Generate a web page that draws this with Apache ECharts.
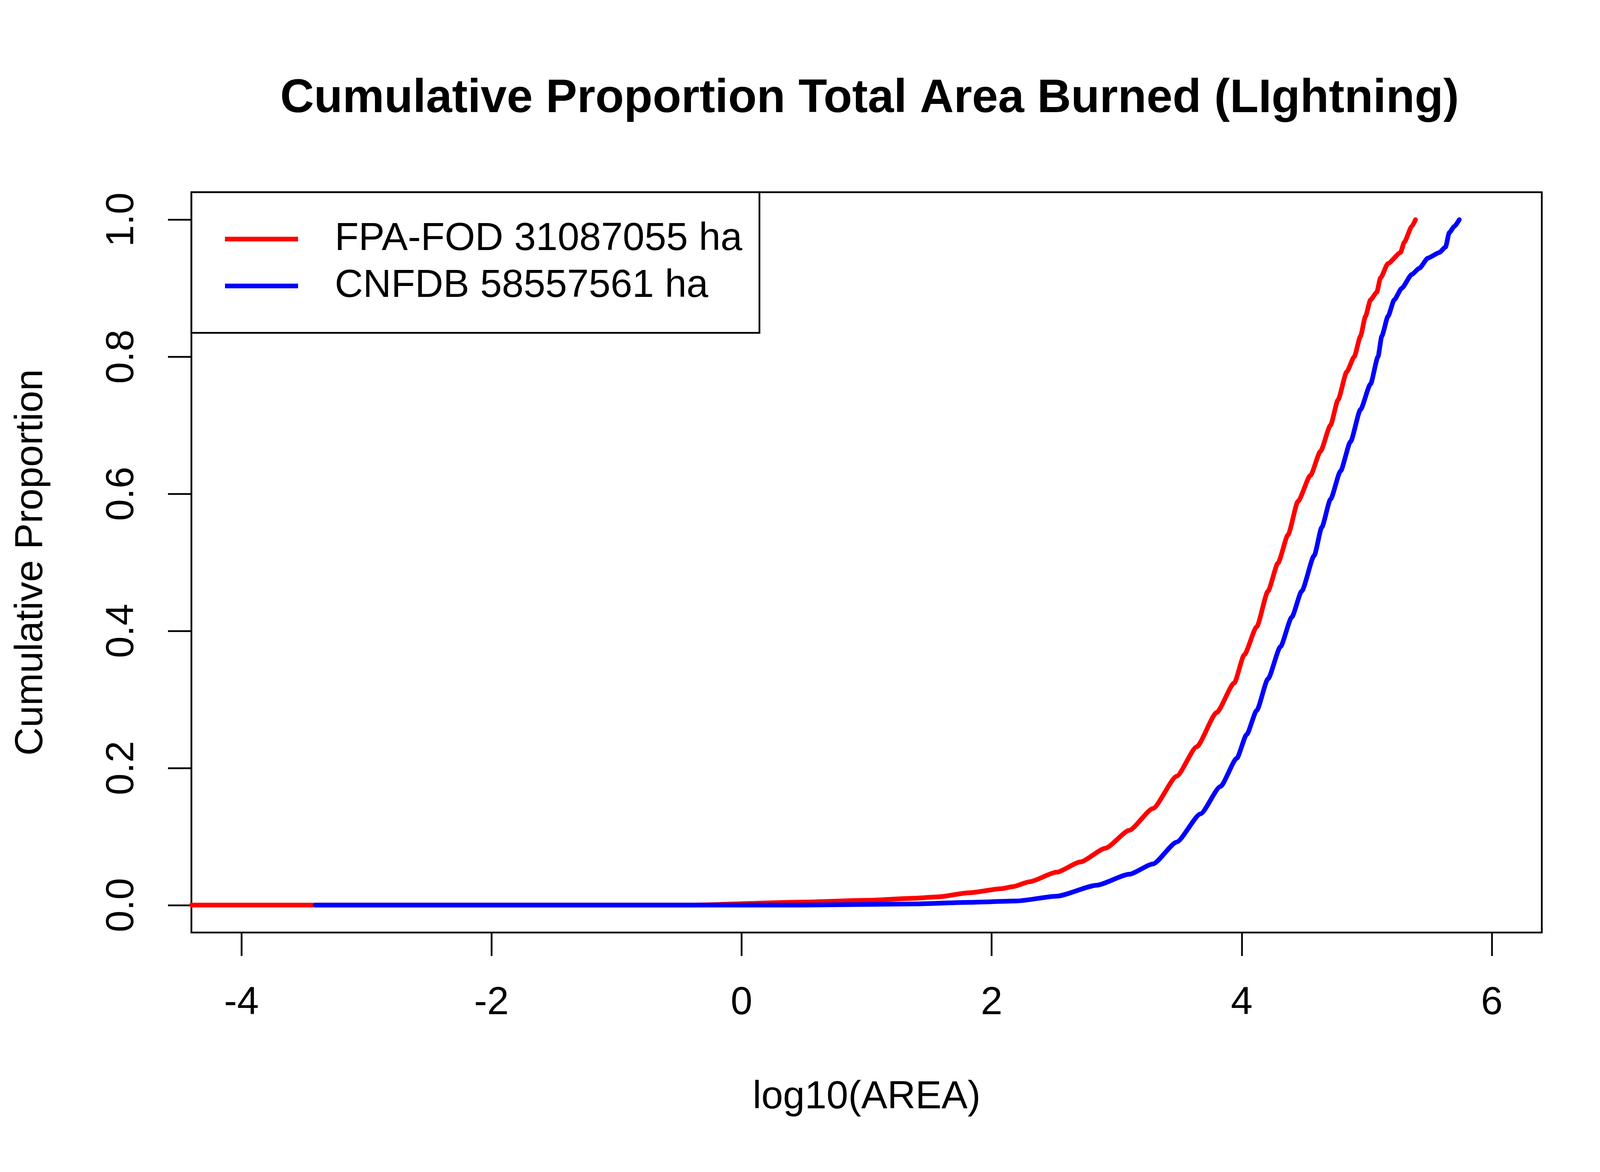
<!DOCTYPE html>
<html>
<head>
<meta charset="utf-8">
<script src="https://cdn.jsdelivr.net/npm/echarts@6/dist/echarts.min.js"></script>
<style>
  html, body { margin: 0; padding: 0; background: #fff; }
  #chart { width: 4200px; height: 3000px; }
</style>
</head>
<body>
<div id="chart"></div>
<script>
// tick positions
var xTicks = [-4, -2, 0, 2, 4, 6]
var yTicks = [0, 0.2, 0.4, 0.6, 0.8, 1.0]

// FPA-FOD ecdf
var redName = 'FPA-FOD 31087055 ha'
var redX = [-4.4, -0.4, 0.5, 1.0, 1.38, 1.57, 1.82, 2.08, 2.17, 2.30, 2.52, 2.71, 2.91, 3.10, 3.29, 3.48, 3.64, 3.80, 3.94, 4.02, 4.12, 4.21, 4.29, 4.37, 4.45, 4.55, 4.63, 4.71, 4.77, 4.84, 4.90, 4.95, 4.99, 5.03, 5.08, 5.11, 5.17, 5.27, 5.30, 5.36, 5.39]
var redY = [0, 0, 0.0045, 0.007, 0.010, 0.012, 0.018, 0.024, 0.027, 0.034, 0.048, 0.063, 0.083, 0.109, 0.141, 0.188, 0.231, 0.281, 0.324, 0.365, 0.406, 0.458, 0.499, 0.54, 0.589, 0.627, 0.662, 0.70, 0.737, 0.778, 0.80, 0.83, 0.859, 0.883, 0.894, 0.915, 0.936, 0.952, 0.967, 0.99, 1.0]

// CNFDB ecdf
var blueName = 'CNFDB 58557561 ha'
var blueX = [-3.41, 0.5, 1.38, 1.82, 2.20, 2.52, 2.84, 3.10, 3.29, 3.48, 3.67, 3.83, 3.96, 4.04, 4.12, 4.21, 4.31, 4.40, 4.48, 4.58, 4.64, 4.71, 4.79, 4.87, 4.95, 5.03, 5.09, 5.12, 5.17, 5.22, 5.28, 5.36, 5.42, 5.49, 5.58, 5.63, 5.66, 5.70, 5.74]
var blueY = [0, 0, 0.0017, 0.004, 0.006, 0.013, 0.029, 0.045, 0.06, 0.092, 0.133, 0.173, 0.214, 0.249, 0.284, 0.33, 0.377, 0.42, 0.458, 0.51, 0.551, 0.592, 0.633, 0.676, 0.723, 0.76, 0.80, 0.83, 0.859, 0.883, 0.90, 0.92, 0.929, 0.944, 0.952, 0.96, 0.981, 0.99, 1.0]

function pairs(xs, ys) {
    let out = []
    for (var i = 0; i < xs.length; i++) {
        out.push([xs[i], ys[i]])
    }
    return out
}

var font = "'Liberation Sans', Arial, sans-serif"

function drawChart() {
    let dom = document.getElementById('chart')
    let myChart = echarts.init(dom, null, { renderer: 'canvas' })
    let option = {
        backgroundColor: '#fff',
        animation: false,
        title: {
            text: 'Cumulative Proportion Total Area Burned (LIghtning)',
            left: 2221,
            top: 189,
            textAlign: 'center',
            textStyle: { fontFamily: font, fontSize: 120, fontWeight: 'bold', color: '#000' }
        },
        legend: {
            orient: 'vertical',
            left: 490,
            top: 492,
            padding: [60, 44, 60, 86],
            itemGap: 0,
            itemWidth: 187,
            itemHeight: 12,
            icon: 'rect',
            backgroundColor: '#fff',
            borderColor: '#000',
            borderWidth: 4.5,
            borderRadius: 0,
            textStyle: { fontFamily: font, fontSize: 100, color: '#000', lineHeight: 120, padding: [0, 0, 0, 89] },
            data: [redName, blueName]
        },
        grid: {
            left: 490,
            top: 492,
            right: 253,
            bottom: 613,
            show: true,
            borderColor: '#000',
            borderWidth: 4.5
        },
        xAxis: {
            type: 'value',
            min: -4.4,
            max: 6.4,
            name: 'log10(AREA)',
            nameLocation: 'middle',
            nameGap: 372,
            nameTextStyle: { fontFamily: font, fontSize: 100, color: '#000' },
            axisLine: { show: false, onZero: false },
            splitLine: { show: false },
            axisTick: { show: true, length: 60, customValues: xTicks, lineStyle: { color: '#000', width: 4.5 } },
            axisLabel: { customValues: xTicks, margin: 131, fontFamily: font, fontSize: 100, color: '#000' }
        },
        yAxis: {
            type: 'value',
            min: -0.04,
            max: 1.04,
            name: 'Cumulative Proportion',
            nameLocation: 'middle',
            nameGap: 360,
            nameTextStyle: { fontFamily: font, fontSize: 100, color: '#000' },
            axisLine: { show: false, onZero: false },
            splitLine: { show: false },
            axisTick: { show: true, length: 60, customValues: yTicks, lineStyle: { color: '#000', width: 4.5 } },
            axisLabel: {
                customValues: yTicks, rotate: 90, margin: 127,
                fontFamily: font, fontSize: 100, color: '#000',
                formatter: function (v) { return v.toFixed(1) }
            }
        },
        series: [
            {
                name: redName,
                type: 'line',
                data: pairs(redX, redY),
                symbol: 'none',
                smooth: 0.2,
                smoothMonotone: 'x',
                color: '#ff0000',
                lineStyle: { width: 12, color: '#ff0000', cap: 'round', join: 'round' }
            },
            {
                name: blueName,
                type: 'line',
                data: pairs(blueX, blueY),
                symbol: 'none',
                smooth: 0.2,
                smoothMonotone: 'x',
                color: '#0000ff',
                lineStyle: { width: 12, color: '#0000ff', cap: 'round', join: 'round' }
            }
        ]
    }
    myChart.setOption(option)
}
drawChart()
</script>
</body>
</html>
